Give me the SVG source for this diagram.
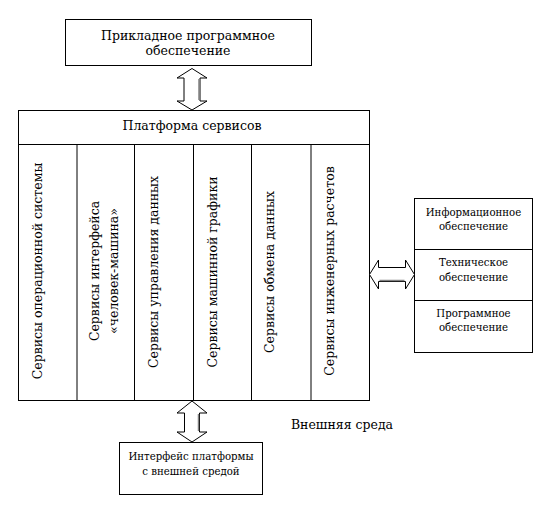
<svg xmlns="http://www.w3.org/2000/svg" width="553" height="514" viewBox="0 0 553 514">
<style>
text{font-family:'DejaVu Serif',serif;fill:#000}
.t15{font-size:12.5px}
.t12{font-size:10.2px}
.box{fill:#fff;stroke:#000;stroke-width:1}
.ln{stroke:#000;stroke-width:1}
.arr{fill:#fff;stroke:#000;stroke-width:1;stroke-linejoin:miter}
.sh{stroke:#808080;stroke-width:1.5}
</style>
<rect width="553" height="514" fill="#fff"/>
<g id="app">
<rect class="box" x="65.5" y="19.5" width="246" height="46"/>
<text class="t15" x="188" y="39.5" text-anchor="middle">Прикладное программное</text>
<text class="t15" x="188" y="54.5" text-anchor="middle">обеспечение</text>
</g>
<g id="platform">
<rect class="box" x="18.5" y="110.5" width="351" height="290"/>
<line class="ln" x1="18.5" y1="144.5" x2="369.5" y2="144.5"/>
<text class="t15" x="192" y="129.5" text-anchor="middle">Платформа сервисов</text>
<line class="ln" x1="77" y1="144.5" x2="77" y2="400.5"/>
<line class="ln" x1="134.5" y1="144.5" x2="134.5" y2="400.5"/>
<line class="ln" x1="193.5" y1="144.5" x2="193.5" y2="400.5"/>
<line class="ln" x1="251.5" y1="144.5" x2="251.5" y2="400.5"/>
<line class="ln" x1="311" y1="144.5" x2="311" y2="400.5"/>
</g>
<g id="svc1"><text class="t15" transform="translate(42,271) rotate(-90)" text-anchor="middle">Сервисы операционной системы</text></g>
<g id="svc2"><text class="t15" transform="translate(99,271) rotate(-90)" text-anchor="middle">Сервисы интерфейса</text><text class="t15" transform="translate(117.5,271) rotate(-90)" text-anchor="middle">«человек-машина»</text></g>
<g id="svc3"><text class="t15" transform="translate(158,272) rotate(-90)" text-anchor="middle">Сервисы управления данных</text></g>
<g id="svc4"><text class="t15" transform="translate(217,272) rotate(-90)" text-anchor="middle">Сервисы машинной графики</text></g>
<g id="svc5"><text class="t15" transform="translate(274,272) rotate(-90)" text-anchor="middle">Сервисы обмена данных</text></g>
<g id="svc6"><text class="t15" transform="translate(334,271) rotate(-90)" text-anchor="middle">Сервисы инженерных расчетов</text></g>
<g id="support">
<rect class="box" x="414.5" y="198.5" width="118" height="154"/>
<line class="ln" x1="414.5" y1="249.5" x2="532.5" y2="249.5"/>
<line class="ln" x1="414.5" y1="300.5" x2="532.5" y2="300.5"/>
<text class="t12" x="473.5" y="215.5" text-anchor="middle">Информационное</text>
<text class="t12" x="473.5" y="230" text-anchor="middle">обеспечение</text>
<text class="t12" x="473.5" y="265.5" text-anchor="middle">Техническое</text>
<text class="t12" x="473.5" y="281" text-anchor="middle">обеспечение</text>
<text class="t12" x="473.5" y="316.5" text-anchor="middle">Программное</text>
<text class="t12" x="473.5" y="331" text-anchor="middle">обеспечение</text>
</g>
<g id="iface">
<rect class="box" x="119.5" y="442.5" width="143" height="52"/>
<text class="t12" x="191" y="459.5" text-anchor="middle">Интерфейс платформы</text>
<text class="t12" x="191" y="474.5" text-anchor="middle">с внешней средой</text>
</g>
<g id="env">
<text class="t15" x="342" y="428.5" text-anchor="middle">Внешняя среда</text>
</g>
<g id="connectors">
<polygon class="arr" points="192,68.5 207,78 200,78 200,101 207,101 192,110 177,101 184,101 184,78 177,78"/>
<line class="sh" x1="199" y1="79" x2="199" y2="100"/>
<polygon class="arr" points="192,401 207,413 199.5,413 199.5,432 207,432 192,442 177,432 184.5,432 184.5,413 177,413"/>
<line class="sh" x1="198.5" y1="414" x2="198.5" y2="431"/>
<polygon class="arr" points="369.5,274.5 378.5,260 378.5,267.5 405.5,267.5 405.5,260 414.5,274.5 405.5,289 405.5,281.5 378.5,281.5 378.5,289"/>
<line class="sh" x1="379.5" y1="280.5" x2="404.5" y2="280.5"/>
</g>
</svg>
